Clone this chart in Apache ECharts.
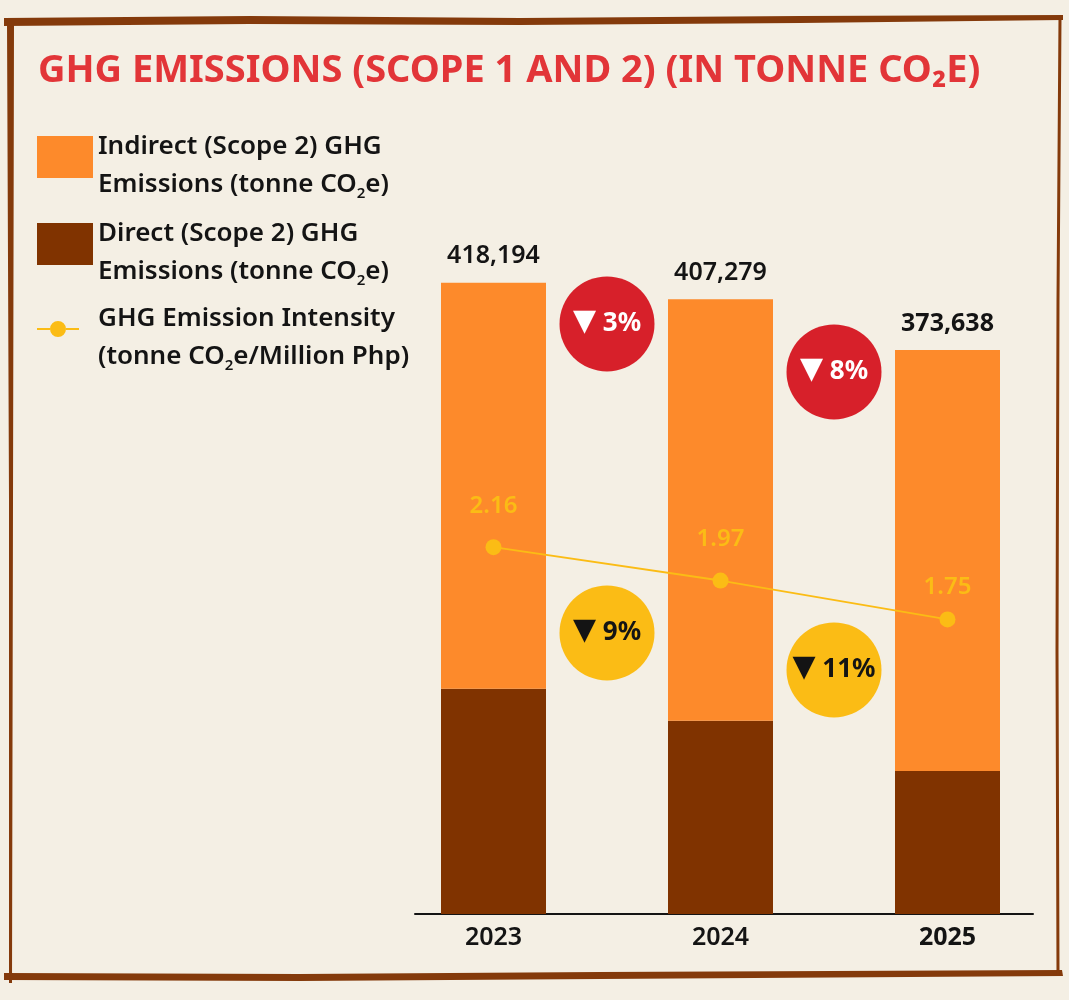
<!DOCTYPE html>
<html><head><meta charset="utf-8">
<script src="https://cdn.jsdelivr.net/npm/echarts@6/dist/echarts.min.js"></script>
<style>html,body{margin:0;padding:0;background:#f4efe4}#c{width:1069px;height:1000px}</style>
</head><body><div id="c"></div>
<script>
// ---- data ----
const years = ['2023', '2024', '2025'];
const totals = [418194, 407279, 373638];
const direct = [149200, 128000, 94800];
const indirect = [268994, 279279, 278838];
const intensity = [2.16, 1.97, 1.75];
const changeLabels = ['3%', '8%', '9%', '11%'];
const changeKind = ['emission', 'emission', 'intensity', 'intensity'];
// badge anchors: between categories (x), emissions scale (y)
const badgeX = [0.5, 1.5, 0.5, 1.5];
const badgeY = [390900, 359100, 186200, 161700];

const F = "'Noto Sans', sans-serif";
const BROWN = '#843a0b';
const ORANGE = '#fd8a2b';
const DARK = '#803300';
const RED = '#d7202a';
const YELLOW = '#fbbc15';
const INK = '#141414';

const NAME_IND = 'Indirect';
const NAME_DIR = 'Direct';
const NAME_INT = 'Intensity';
const legendText = {
  [NAME_IND]: '{t|Indirect (Scope 2) GHG}\n{t|Emissions (tonne CO}{s|2}{t|e)}',
  [NAME_DIR]: '{t|Direct (Scope 2) GHG}\n{t|Emissions (tonne CO}{s|2}{t|e)}',
  [NAME_INT]: '{t|GHG Emission Intensity}\n{t|(tonne CO}{s|2}{t|e/Million Php)}'
};
const legendTextStyle = {
  fontFamily: F, fontSize: 26, fontWeight: 600, color: INK, lineHeight: 38,
  rich: {
    t: { fontFamily: F, fontSize: 26, fontWeight: 600, color: INK, lineHeight: 38 },
    s: { fontFamily: F, fontSize: 15, fontWeight: 600, color: INK, lineHeight: 38, verticalAlign: 'bottom', padding: [0, 0, 3, 0] }
  }
};
// legend swatches sit slightly above the centre of their two-line text
const SWATCH_ICON = 'path://M0,0L56,0L56,42L0,42Z M0,60';
const LINE_ICON = 'path://M0,7L13,7L13,9L0,9Z M29,7L42,7L42,9L29,9Z M13,8A8,8 0 1,0 29,8A8,8 0 1,0 13,8Z M0,34 M56,34';

const chart = echarts.init(document.getElementById('c'), null, { renderer: 'canvas' });

const badgeData = badgeX.map((x, i) => ({
  value: [x, badgeY[i]],
  itemStyle: { color: changeKind[i] === 'emission' ? RED : YELLOW, opacity: 1 },
  label: { color: changeKind[i] === 'emission' ? '#ffffff' : INK }
}));

const option = {
  backgroundColor: '#f4efe4',
  animation: false,
  title: {
    text: 'GHG EMISSIONS (SCOPE 1 AND 2) (IN TONNE CO₂E)',
    left: 33, top: 47,
    textStyle: { color: '#e23538', fontFamily: F, fontWeight: 'bold', fontSize: 38 }
  },
  legend: [
    {
      orient: 'vertical', left: 37, top: 128, padding: 0, itemWidth: 56, itemHeight: 60, itemGap: 11,
      icon: SWATCH_ICON,
      data: [NAME_IND, NAME_DIR], selectedMode: false,
      formatter: n => legendText[n], textStyle: legendTextStyle
    },
    {
      orient: 'vertical', left: 37, top: 300, padding: 0, itemWidth: 56, itemHeight: 34,
      icon: LINE_ICON,
      data: [NAME_INT], selectedMode: false,
      formatter: n => legendText[n], textStyle: legendTextStyle
    }
  ],
  grid: [
    { left: 380, right: 8, top: 200, bottom: 86 },
    { left: 415, right: 36, top: 200, bottom: 86 }
  ],
  xAxis: [
    {
      type: 'category', gridIndex: 0,
      data: years.map((y, i) => i === years.length - 1 ? { value: y, textStyle: { fontWeight: 'bold' } } : y),
      axisLine: { show: false }, axisTick: { show: false },
      axisLabel: { fontFamily: F, fontSize: 25, fontWeight: 600, color: INK, margin: 11 }
    },
    { type: 'value', gridIndex: 0, min: -0.5, max: 2.5, show: false },
    {
      type: 'value', gridIndex: 1, min: 0, max: 1,
      axisLine: { show: true, onZero: false, lineStyle: { color: INK, width: 2 } },
      axisTick: { show: false }, axisLabel: { show: false }, splitLine: { show: false }
    }
  ],
  yAxis: [
    { type: 'value', gridIndex: 0, min: 0, max: 473000, show: false },
    { type: 'value', gridIndex: 0, min: 0.078, max: 4.13, show: false },
    { type: 'value', gridIndex: 1, min: 0, max: 1, show: false }
  ],
  series: [
    {
      name: NAME_DIR, type: 'bar', stack: 'em', xAxisIndex: 0, yAxisIndex: 0,
      barWidth: 105, data: direct, itemStyle: { color: DARK }
    },
    {
      name: NAME_IND, type: 'bar', stack: 'em', xAxisIndex: 0, yAxisIndex: 0,
      barWidth: 105, itemStyle: { color: ORANGE },
      data: indirect.map((v, i) => ({
        value: v,
        label: i === years.length - 1 ? { fontWeight: 'bold' } : {}
      })),
      label: {
        show: true, position: 'top', distance: 14,
        fontFamily: F, fontSize: 25, fontWeight: 600, color: INK,
        formatter: p => totals[p.dataIndex].toLocaleString('en-US')
      }
    },
    {
      name: NAME_INT, type: 'line', xAxisIndex: 0, yAxisIndex: 1,
      data: intensity.map((v, i) => i === intensity.length - 1 ? { value: v, label: { distance: 12 } } : v),
      color: YELLOW, z: 5,
      lineStyle: { color: YELLOW, width: 2 },
      itemStyle: { color: YELLOW },
      symbol: 'circle', symbolSize: 16,
      label: {
        show: true, position: 'top', distance: 21,
        fontFamily: F, fontSize: 24, fontWeight: 600, color: YELLOW,
        formatter: p => p.value.toFixed(2)
      }
    },
    {
      name: 'badges', type: 'scatter', xAxisIndex: 1, yAxisIndex: 0, z: 6,
      symbol: 'circle', symbolSize: 95, data: badgeData,
      label: {
        show: true, position: 'inside',
        fontFamily: F, fontSize: 26, fontWeight: 'bold',
        formatter: p => '{tri|▼} ' + changeLabels[p.dataIndex],
        rich: { tri: { fontFamily: "'DejaVu Sans', sans-serif", fontSize: 30, padding: [0, 0, 4, 0] } }
      }
    }
  ],
  graphic: [
    { type: 'polygon', z: 100, shape: { points: [[4,18],[250,16],[520,18],[800,16],[1063,15],[1063,20],[800,23],[520,25],[250,24],[4,26]] }, style: { fill: BROWN } },
    { type: 'polygon', z: 100, shape: { points: [[7,22],[14,22],[13,500],[12,983],[9,983],[9,500]] }, style: { fill: BROWN } },
    { type: 'polygon', z: 100, shape: { points: [[4,973],[300,974],[600,972],[1062,970],[1063,976],[600,979],[300,981],[4,980]] }, style: { fill: BROWN } },
    { type: 'polyline', z: 100, shape: { points: [[1060,17],[1058,300],[1057,650],[1058,975]] }, style: { stroke: BROWN, lineWidth: 3, fill: null } }
  ]
};
chart.setOption(option);
</script>
</body></html>
